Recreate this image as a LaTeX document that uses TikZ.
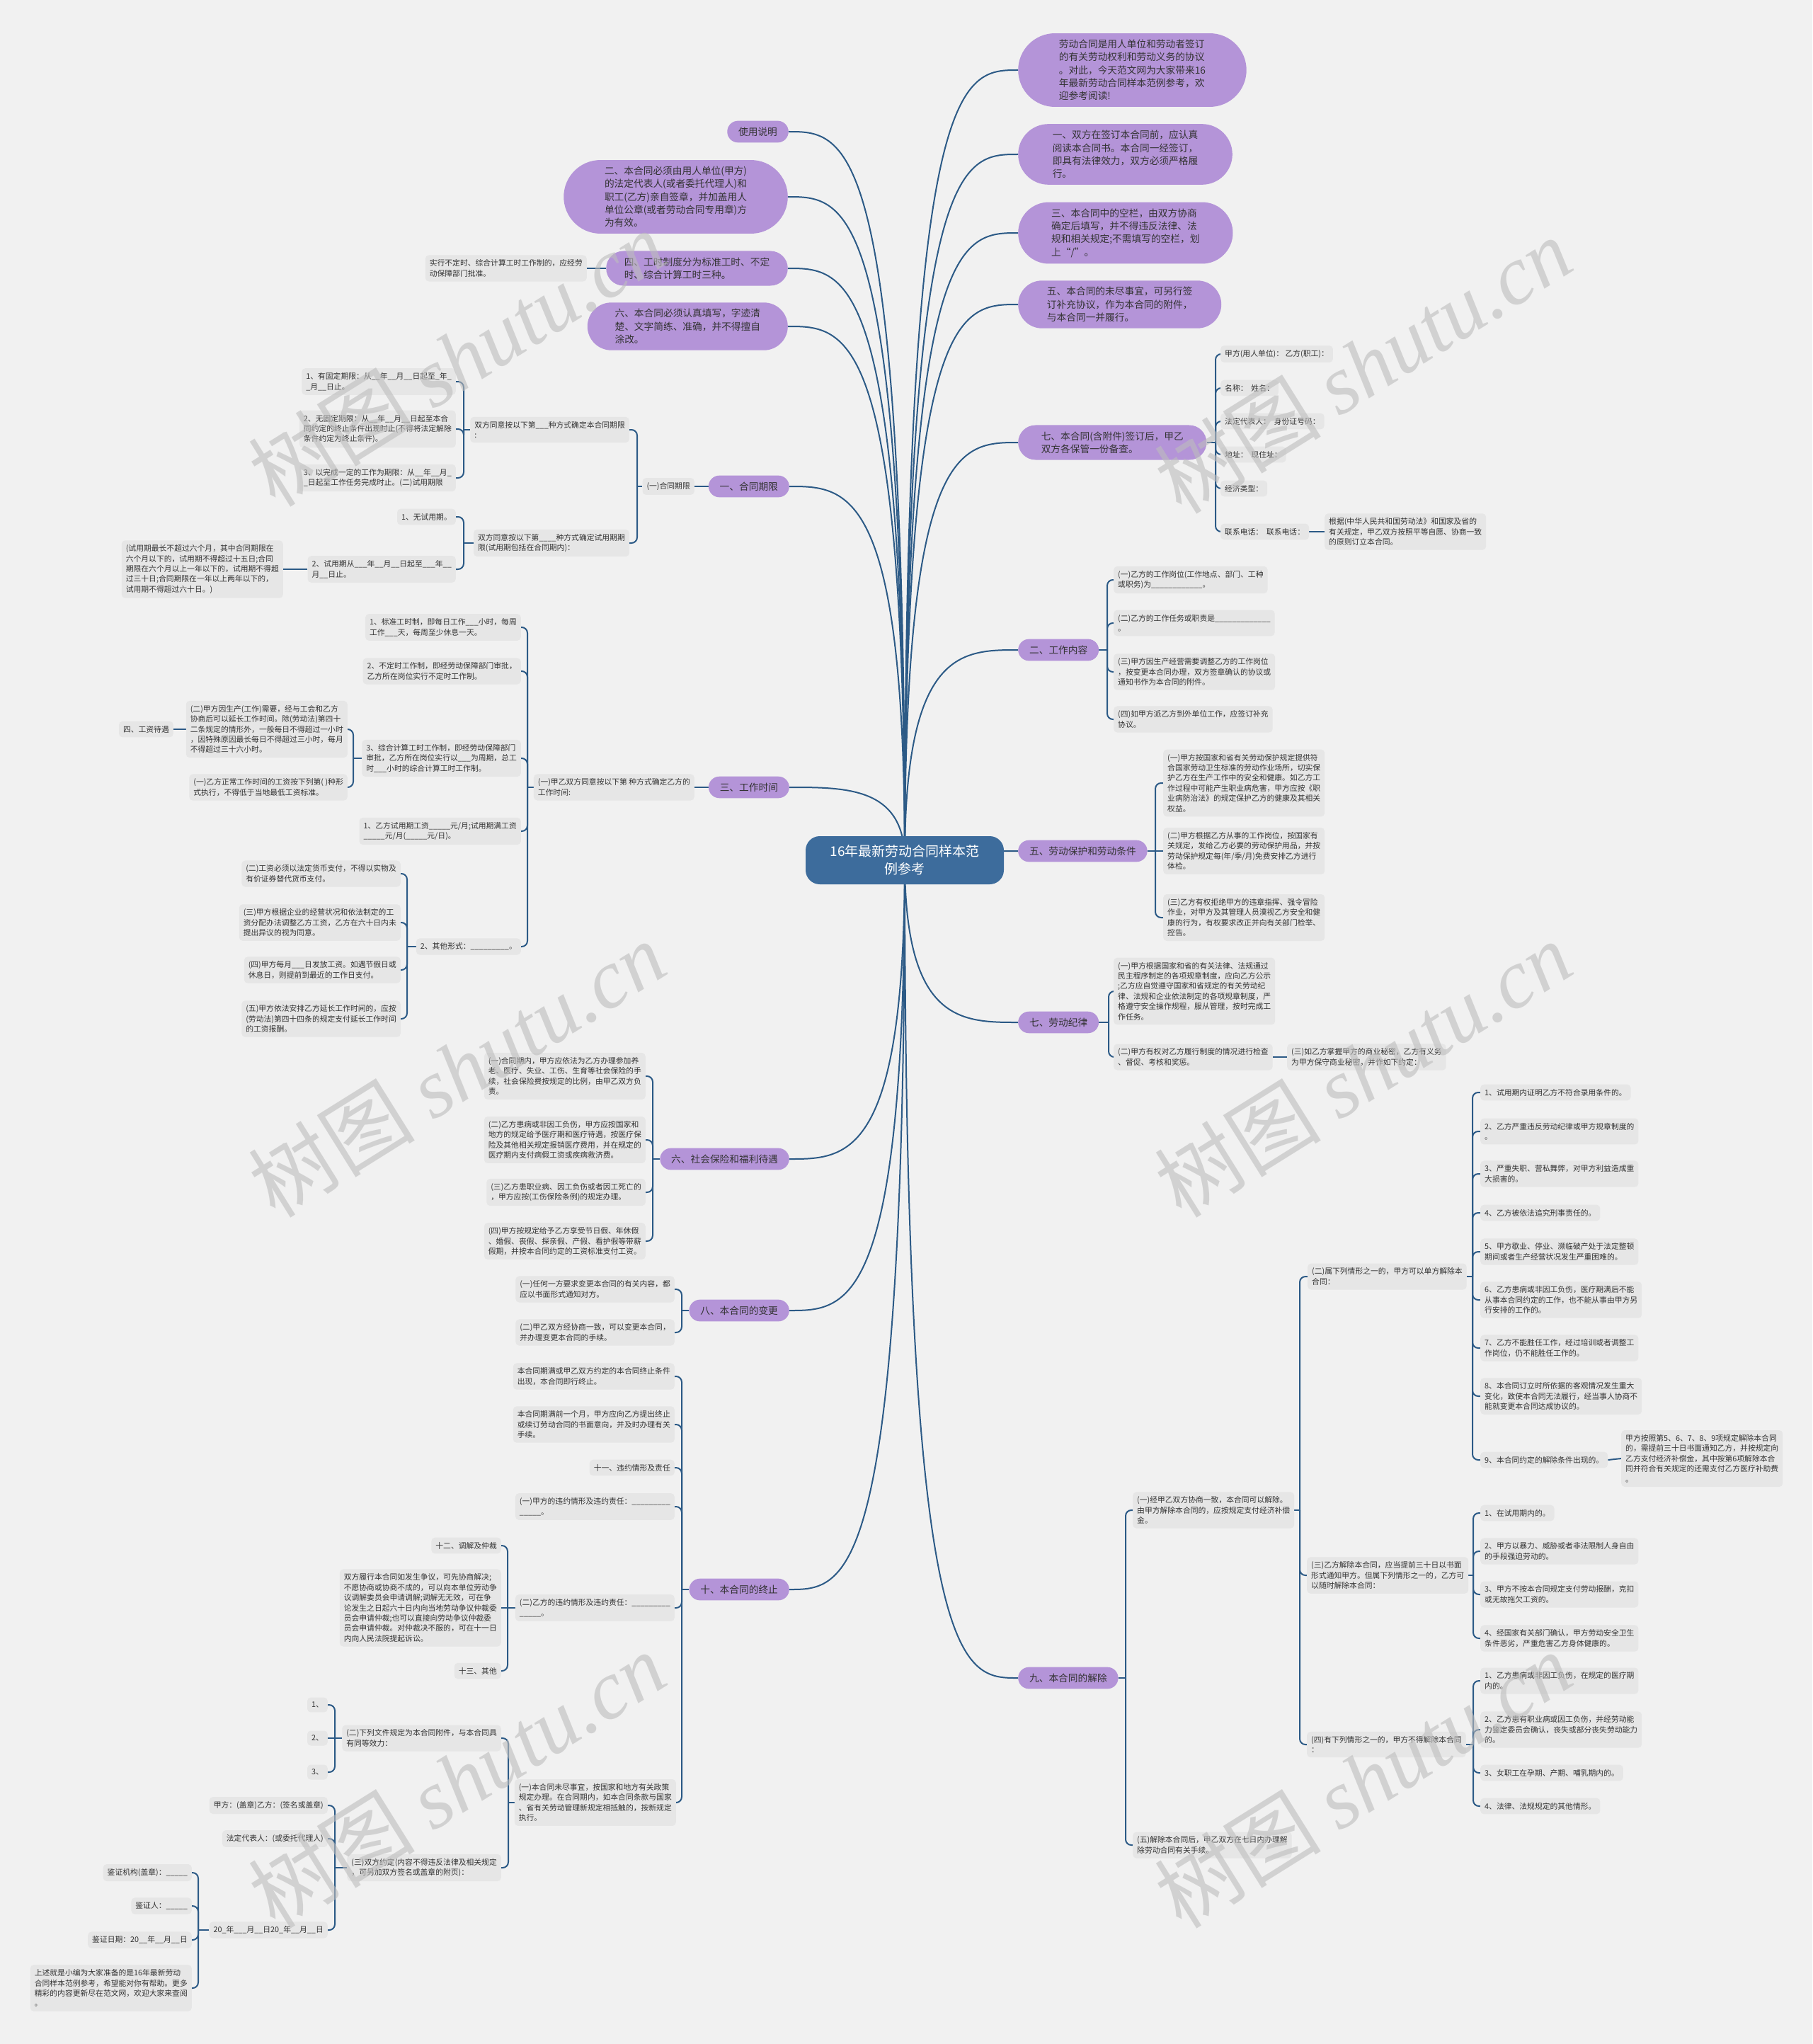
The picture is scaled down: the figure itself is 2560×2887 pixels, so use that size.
\documentclass[tikz,border=0pt]{standalone}
\usepackage{fontspec}
\setmainfont{Noto Sans CJK SC}
\newfontfamily\wmlat{Liberation Serif}
\usetikzlibrary{shapes.misc,calc}
\definecolor{bgc}{HTML}{F1F1F1}
\definecolor{leaffill}{HTML}{E6E6E6}
\definecolor{pfill}{HTML}{B494D8}
\definecolor{rootfill}{HTML}{3D6C9C}
\definecolor{connc}{HTML}{2C5A86}
\definecolor{txt}{HTML}{333333}
\definecolor{wmc}{HTML}{BDBDBD}
\pgfdeclarelayer{bgl}
\pgfdeclarelayer{lines}
\pgfdeclarelayer{wml}
\pgfsetlayers{bgl,lines,main,wml}
\tikzset{
 leaf/.style={rectangle, rounded corners=5pt, fill=leaffill, text=txt, align=left, inner xsep=6pt, inner ysep=6.3pt, font=\fontsize{10.8}{14.4}\selectfont},
 pnode/.style={rounded rectangle, fill=pfill, text=txt, align=left, inner xsep=14.5pt, inner ysep=9pt, font=\fontsize{13.7}{18.3}\selectfont},
 conn/.style={draw=connc, line width=2pt},
 rc/.style={rounded corners=8pt},
}
\newcommand\lfL[4]{\node[leaf,anchor=east] (#1) at (#2,#3) {#4};}
\newcommand\lfR[4]{\node[leaf,anchor=west] (#1) at (#2,#3) {#4};}
\newcommand\ppL[5][14.5pt]{\node[pnode,anchor=east,inner xsep=#1] (#2) at (#3,#4) {#5};}
\newcommand\ppR[5][14.5pt]{\node[pnode,anchor=west,inner xsep=#1] (#2) at (#3,#4) {#5};}
\newcommand\bkL[3]{\coordinate (tmpx) at (#2,0); \draw[conn] (#1.west) -- (#1.west -| tmpx) coordinate (k#1); \foreach \c in {#3}{\draw[conn,rc] (k#1) |- (\c.east);}}
\newcommand\bkR[3]{\coordinate (tmpx) at (#2,0); \draw[conn] (#1.east) -- (#1.east -| tmpx) coordinate (k#1); \foreach \c in {#3}{\draw[conn,rc] (k#1) |- (\c.west);}}
\newcommand\stL[2]{\draw[conn] (#1.west) -- (#2.east);}
\newcommand\stR[2]{\draw[conn] (#1.east) -- (#2.west);}
\newcommand\rtL[1]{\draw[conn] (root.center) .. controls (root.center |- #1.east) and ($(root.center |- #1.east)!0.5!(#1.east)$) .. (#1.east);}
\newcommand\rtR[1]{\draw[conn] (root.center) .. controls (root.center |- #1.west) and ($(root.center |- #1.west)!0.5!(#1.west)$) .. (#1.west);}
\begin{document}
\catcode`\_=12
\begin{tikzpicture}[x=1pt,y=-1pt]
\begin{pgfonlayer}{bgl}
\fill[bgc] (0,0) rectangle (2560,2887);
\end{pgfonlayer}
\useasboundingbox (0,0) rectangle (2560,2887);

% root
\node[rectangle, rounded corners=20pt, fill=rootfill, text=white, align=center, minimum width=280pt, minimum height=68pt, font=\fontsize{19}{25}\selectfont] (root) at (1278,1215) {16年最新劳动合同样本范\\例参考};

% ---------- left main ----------
\ppL{Luse}{1114}{186}{使用说明}
\ppL[35pt]{L2}{1113}{278}{二、本合同必须由用人单位(甲方)\\的法定代表人(或者委托代理人)和\\职工(乙方)亲自签章，并加盖用人\\单位公章(或者劳动合同专用章)方\\为有效。}
\ppL[20pt]{L4}{1113}{379}{四、工时制度分为标准工时、不定\\时、综合计算工时三种。}
\ppL[28pt]{L6}{1113}{461}{六、本合同必须认真填写，字迹清\\楚、文字简练、准确，并不得擅自\\涂改。}
\ppL{A1}{1115}{687}{一、合同期限}
\ppL{A3}{1115}{1112}{三、工作时间}
\ppL{A6}{1115}{1637}{六、社会保险和福利待遇}
\ppL{A8}{1115}{1851}{八、本合同的变更}
\ppL{A10}{1115}{2245}{十、本合同的终止}

\lfL{L4c}{829}{379}{实行不定时、综合计算工时工作制的，应经劳\\动保障部门批准。}

% 一、合同期限
\lfL{A1a}{981}{687}{(一)合同期限}
\lfL{A1a1}{889}{607}{双方同意按以下第___种方式确定本合同期限\\:}
\lfL{A1a2}{889}{767}{双方同意按以下第____种方式确定试用期期\\限(试用期包括在合同期内)：}
\lfL{c1}{644}{539}{1、有固定期限：从__年__月__日起至_年_\\_月__日止。}
\lfL{c2}{644}{606}{2、无固定期限：从__年__月__日起至本合\\同约定的终止条件出现时止(不得将法定解除\\条件约定为终止条件)。}
\lfL{c3}{644}{675}{3、以完成一定的工作为期限：从__年__月_\\_日起至工作任务完成时止。(二)试用期限}
\lfL{d1}{644}{730}{1、无试用期。}
\lfL{d2}{644}{804}{2、试用期从___年__月__日起至___年__\\月__日止。}
\lfL{d2c}{400}{804}{(试用期最长不超过六个月，其中合同期限在\\六个月以下的，试用期不得超过十五日;合同\\期限在六个月以上一年以下的，试用期不得超\\过三十日;合同期限在一年以上两年以下的，\\试用期不得超过六十日。)}

% 三、工作时间
\lfL{A3a}{981}{1112}{(一)甲乙双方同意按以下第 种方式确定乙方的\\工作时间:}
\lfL{e1}{736}{886}{1、标准工时制，即每日工作___小时，每周\\工作___天，每周至少休息一天。}
\lfL{e2}{736}{948}{2、不定时工作制，即经劳动保障部门审批，\\乙方所在岗位实行不定时工作制。}
\lfL{e3}{736}{1071}{3、综合计算工时工作制，即经劳动保障部门\\审批，乙方所在岗位实行以___为周期，总工\\时___小时的综合计算工时工作制。}
\lfL{f1}{491}{1030}{(二)甲方因生产(工作)需要，经与工会和乙方\\协商后可以延长工作时间。除(劳动法)第四十\\二条规定的情形外，一般每日不得超过一小时\\，因特殊原因最长每日不得超过三小时，每月\\不得超过三十六小时。}
\lfL{f1c}{245}{1030}{四、工资待遇}
\lfL{f2}{491}{1112}{(一)乙方正常工作时间的工资按下列第( )种形\\式执行，不得低于当地最低工资标准。}
\lfL{e4}{736}{1174}{1、乙方试用期工资_____元/月;试用期满工资\\_____元/月(_____元/日)。}
\lfL{e5}{736}{1337}{2、其他形式：_________。}
\lfL{g1}{566}{1234}{(二)工资必须以法定货币支付，不得以实物及\\有价证券替代货币支付。}
\lfL{g2}{566}{1303}{(三)甲方根据企业的经营状况和依法制定的工\\资分配办法调整乙方工资，乙方在六十日内未\\提出异议的视为同意。}
\lfL{g3}{566}{1370}{(四)甲方每月___日发放工资。如遇节假日或\\休息日，则提前到最近的工作日支付。}
\lfL{g4}{566}{1439}{(五)甲方依法安排乙方延长工作时间的，应按\\(劳动法)第四十四条的规定支付延长工作时间\\的工资报酬。}

% 六、社会保险
\lfL{h1}{912}{1520}{(一)合同期内，甲方应依法为乙方办理参加养\\老、医疗、失业、工伤、生育等社会保险的手\\续，社会保险费按规定的比例，由甲乙双方负\\责。}
\lfL{h2}{912}{1610}{(二)乙方患病或非因工负伤，甲方应按国家和\\地方的规定给予医疗期和医疗待遇，按医疗保\\险及其他相关规定报销医疗费用，并在规定的\\医疗期内支付病假工资或疾病救济费。}
\lfL{h3}{912}{1684}{(三)乙方患职业病、因工负伤或者因工死亡的\\，甲方应按(工伤保险条例)的规定办理。}
\lfL{h4}{912}{1753}{(四)甲方按规定给予乙方享受节日假、年休假\\、婚假、丧假、探亲假、产假、看护假等带薪\\假期，并按本合同约定的工资标准支付工资。}

% 八
\lfL{i1}{953}{1821}{(一)任何一方要求变更本合同的有关内容，都\\应以书面形式通知对方。}
\lfL{i2}{953}{1882}{(二)甲乙双方经协商一致，可以变更本合同，\\并办理变更本合同的手续。}

% 十
\lfL{j1}{953}{1944}{本合同期满或甲乙双方约定的本合同终止条件\\出现，本合同即行终止。}
\lfL{j2}{953}{2012}{本合同期满前一个月，甲方应向乙方提出终止\\或续订劳动合同的书面意向，并及时办理有关\\手续。}
\lfL{j3}{953}{2073}{十一、违约情形及责任}
\lfL{j4}{953}{2128}{(一)甲方的违约情形及违约责任：_________\\_____。}
\lfL{j5}{953}{2271}{(二)乙方的违约情形及违约责任：_________\\_____。}
\lfL{k1}{708}{2183}{十二、调解及仲裁}
\lfL{k2}{708}{2271}{双方履行本合同如发生争议，可先协商解决;\\不愿协商或协商不成的，可以向本单位劳动争\\议调解委员会申请调解;调解无无效，可在争\\论发生之日起六十日内向当地劳动争议仲裁委\\员会申请仲裁;也可以直接向劳动争议仲裁委\\员会申请仲裁。对仲裁决不服的，可在十一日\\内向人民法院提起诉讼。}
\lfL{k3}{708}{2360}{十三、其他}
\lfL{j6}{955}{2546}{(一)本合同未尽事宜，按国家和地方有关政策\\规定办理。在合同期内，如本合同条款与国家\\、省有关劳动管理新规定相抵触的，按新规定\\执行。}
\lfL{l1}{708}{2455}{(二)下列文件规定为本合同附件，与本合同具\\有同等效力：}
\lfL{m1}{463}{2408}{1、}
\lfL{m2}{463}{2455}{2、}
\lfL{m3}{463}{2503}{3、}
\lfL{l2}{708}{2638}{(三)双方约定(内容不得违反法律及相关规定\\，可另加双方签名或盖章的附页)：}
\lfL{n1}{463}{2550}{甲方：(盖章)乙方：(签名或盖章)}
\lfL{n2}{463}{2597}{法定代表人：(或委托代理人)}
\lfL{n3}{463}{2726}{20_年___月__日20_年__月__日}
\lfL{o1}{271}{2645}{鉴证机构(盖章)：_____}
\lfL{o2}{271}{2692}{鉴证人：_____}
\lfL{o3}{271}{2740}{鉴证日期：20__年__月__日}
\lfL{o4}{271}{2808}{上述就是小编为大家准备的是16年最新劳动\\合同样本范例参考，希望能对你有帮助。更多\\精彩的内容更新尽在范文网，欢迎大家来查阅\\。}

% ---------- right main ----------
\ppR[35pt]{R0}{1438}{99}{劳动合同是用人单位和劳动者签订\\的有关劳动权利和劳动义务的协议\\。对此，今天范文网为大家带来16\\年最新劳动合同样本范例参考，欢\\迎参考阅读!}
\ppR[32pt]{R1}{1438}{218}{一、双方在签订本合同前，应认真\\阅读本合同书。本合同一经签订，\\即具有法律效力，双方必须严格履\\行。}
\ppR[30pt]{R3}{1438}{329}{三、本合同中的空栏，由双方协商\\确定后填写，并不得违反法律、法\\规和相关规定;不需填写的空栏，划\\上“/”。}
\ppR[30pt]{R5}{1438}{430}{五、本合同的未尽事宜，可另行签\\订补充协议，作为本合同的附件，\\与本合同一并履行。}
\ppR[27pt]{R7}{1438}{625}{七、本合同(含附件)签订后，甲乙\\双方各保管一份备查。}
\ppR{R2}{1438}{918}{二、工作内容}
\ppR{R5b}{1438}{1202}{五、劳动保护和劳动条件}
\ppR{R7b}{1438}{1444}{七、劳动纪律}
\ppR{R9}{1438}{2370}{九、本合同的解除}

\lfR{p1}{1724}{500}{甲方(用人单位)：\ 乙方(职工)：}
\lfR{p2}{1724}{548}{名称：\ \ 姓名：}
\lfR{p3}{1724}{595}{法定代表人：\ \ 身份证号码：}
\lfR{p4}{1724}{642}{地址：\ \ 现住址：}
\lfR{p5}{1724}{690}{经济类型：}
\lfR{p6}{1724}{751}{联系电话：\ \ 联系电话：}
\lfR{p6c}{1871}{751}{根据(中华人民共和国劳动法》和国家及省的\\有关规定，甲乙双方按照平等自愿、协商一致\\的原则订立本合同。}

\lfR{q1}{1573}{819}{(一)乙方的工作岗位(工作地点、部门、工种\\或职务)为____________。}
\lfR{q2}{1573}{880}{(二)乙方的工作任务或职责是_____________\\。}
\lfR{q3}{1573}{949}{(三)甲方因生产经营需要调整乙方的工作岗位\\，按变更本合同办理，双方签章确认的协议或\\通知书作为本合同的附件。}
\lfR{q4}{1573}{1016}{(四)如甲方派乙方到外单位工作，应签订补充\\协议。}

\lfR{s1}{1643}{1106}{(一)甲方按国家和省有关劳动保护规定提供符\\合国家劳动卫生标准的劳动作业场所，切实保\\护乙方在生产工作中的安全和健康。如乙方工\\作过程中可能产生职业病危害，甲方应按《职\\业病防治法》的规定保护乙方的健康及其相关\\权益。}
\lfR{s2}{1643}{1202}{(二)甲方根据乙方从事的工作岗位，按国家有\\关规定，发给乙方必要的劳动保护用品，并按\\劳动保护规定每(年/季/月)免费安排乙方进行\\体检。}
\lfR{s3}{1643}{1296}{(三)乙方有权拒绝甲方的违章指挥、强令冒险\\作业，对甲方及其管理人员漠视乙方安全和健\\康的行为，有权要求改正并向有关部门检举、\\控告。}

\lfR{t1}{1573}{1400}{(一)甲方根据国家和省的有关法律、法规通过\\民主程序制定的各项规章制度，应向乙方公示\\;乙方应自觉遵守国家和省规定的有关劳动纪\\律、法规和企业依法制定的各项规章制度，严\\格遵守安全操作规程，服从管理，按时完成工\\作任务。}
\lfR{t2}{1573}{1493}{(二)甲方有权对乙方履行制度的情况进行检查\\、督促、考核和奖惩。}
\lfR{t2c}{1818}{1493}{(三)如乙方掌握甲方的商业秘密，乙方有义务\\为甲方保守商业秘密，并作如下约定：}

\lfR{u1}{1600}{2133}{(一)经甲乙双方协商一致，本合同可以解除。\\由甲方解除本合同的，应按规定支付经济补偿\\金。}
\lfR{u5}{1600}{2606}{(五)解除本合同后，甲乙双方在七日内办理解\\除劳动合同有关手续。}
\lfR{v2}{1847}{1803}{(二)属下列情形之一的，甲方可以单方解除本\\合同：}
\lfR{v3}{1846}{2225}{(三)乙方解除本合同，应当提前三十日以书面\\形式通知甲方。但属下列情形之一的，乙方可\\以随时解除本合同：}
\lfR{v4}{1846}{2464}{(四)有下列情形之一的，甲方不得解除本合同\\：}
\lfR{w1}{2091}{1543}{1、试用期内证明乙方不符合录用条件的。}
\lfR{w2}{2091}{1598}{2、乙方严重违反劳动纪律或甲方规章制度的\\。}
\lfR{w3}{2091}{1658}{3、严重失职、营私舞弊，对甲方利益造成重\\大损害的。}
\lfR{w4}{2091}{1713}{4、乙方被依法追究刑事责任的。}
\lfR{w5}{2091}{1768}{5、甲方歇业、停业、濒临破产处于法定整顿\\期间或者生产经营状况发生严重困难的。}
\lfR{w6}{2091}{1836}{6、乙方患病或非因工负伤，医疗期满后不能\\从事本合同约定的工作，也不能从事由甲方另\\行安排的工作的。}
\lfR{w7}{2091}{1904}{7、乙方不能胜任工作，经过培训或者调整工\\作岗位，仍不能胜任工作的。}
\lfR{w8}{2091}{1972}{8、本合同订立时所依据的客观情况发生重大\\变化，致使本合同无法履行，经当事人协商不\\能就变更本合同达成协议的。}
\lfR{w9}{2091}{2062}{9、本合同约定的解除条件出现的。}
\lfR{w9c}{2290}{2060}{甲方按照第5、6、7、8、9项规定解除本合同\\的，需提前三十日书面通知乙方，并按规定向\\乙方支付经济补偿金，其中按第6项解除本合\\同并符合有关规定的还需支付乙方医疗补助费\\。}
\lfR{x1}{2091}{2137}{1、在试用期内的。}
\lfR{x2}{2091}{2191}{2、甲方以暴力、威胁或者非法限制人身自由\\的手段强迫劳动的。}
\lfR{x3}{2091}{2252}{3、甲方不按本合同规定支付劳动报酬，克扣\\或无故拖欠工资的。}
\lfR{x4}{2091}{2314}{4、经国家有关部门确认，甲方劳动安全卫生\\条件恶劣，严重危害乙方身体健康的。}
\lfR{y1}{2091}{2374}{1、乙方患病或非因工负伤，在规定的医疗期\\内的。}
\lfR{y2}{2091}{2443}{2、乙方患有职业病或因工负伤，并经劳动能\\力鉴定委员会确认，丧失或部分丧失劳动能力\\的。}
\lfR{y3}{2091}{2504}{3、女职工在孕期、产期、哺乳期内的。}
\lfR{y4}{2091}{2551}{4、法律、法规规定的其他情形。}

% ---------- connectors ----------
\begin{pgfonlayer}{lines}
\rtL{Luse}\rtL{L2}\rtL{L4}\rtL{L6}\rtL{A1}\rtL{A3}\rtL{A6}\rtL{A8}\rtL{A10}
\rtR{R0}\rtR{R1}\rtR{R3}\rtR{R5}\rtR{R7}\rtR{R2}\rtR{R5b}\rtR{R7b}\rtR{R9}
\stL{L4}{L4c}
\stL{A1}{A1a}
\bkL{A1a}{900}{A1a1,A1a2}
\bkL{A1a1}{655}{c1,c2,c3}
\bkL{A1a2}{655}{d1,d2}
\stL{d2}{d2c}
\stL{A3}{A3a}
\bkL{A3a}{745}{e1,e2,e3,e4,e5}
\bkL{e3}{499}{f1,f2}
\stL{f1}{f1c}
\bkL{e5}{575}{g1,g2,g3,g4}
\bkL{A6}{922}{h1,h2,h3,h4}
\bkL{A8}{963}{i1,i2}
\bkL{A10}{963}{j1,j2,j3,j4,j5,j6}
\bkL{j5}{717}{k1,k3}
\stL{j5}{k2}
\bkL{j6}{718}{l1,l2}
\bkL{l1}{473}{m1,m3}
\stL{l1}{m2}
\bkL{l2}{473}{n1,n2,n3}
\bkL{n3}{280}{o1,o2,o3,o4}
\bkR{R7}{1717}{p1,p2,p3,p4,p5,p6}
\stR{p6}{p6c}
\bkR{R2}{1564}{q1,q2,q3,q4}
\bkR{R5b}{1632}{s1,s3}
\stR{R5b}{s2}
\bkR{R7b}{1566}{t1,t2}
\stR{t2}{t2c}
\bkR{R9}{1590}{u1,u5}
\bkR{u1}{1836}{v2,v3,v4}
\bkR{v2}{2080}{w1,w2,w3,w4,w5,w6,w7,w8,w9}
\stR{w9}{w9c}
\bkR{v3}{2081}{x1,x2,x3,x4}
\bkR{v4}{2081}{y1,y2,y3,y4}
\end{pgfonlayer}

% ---------- watermark ----------
\begin{pgfonlayer}{wml}
\foreach \wx/\wy in {645/506,1925/516,645/1510,1925/1510,645/2514,1925/2514}
  \node[rotate=32, text=wmc, opacity=0.6, font=\fontsize{118}{118}\selectfont] at (\wx,\wy) {树图 {\wmlat\itshape shutu.cn}};
\end{pgfonlayer}
\end{tikzpicture}
\end{document}
